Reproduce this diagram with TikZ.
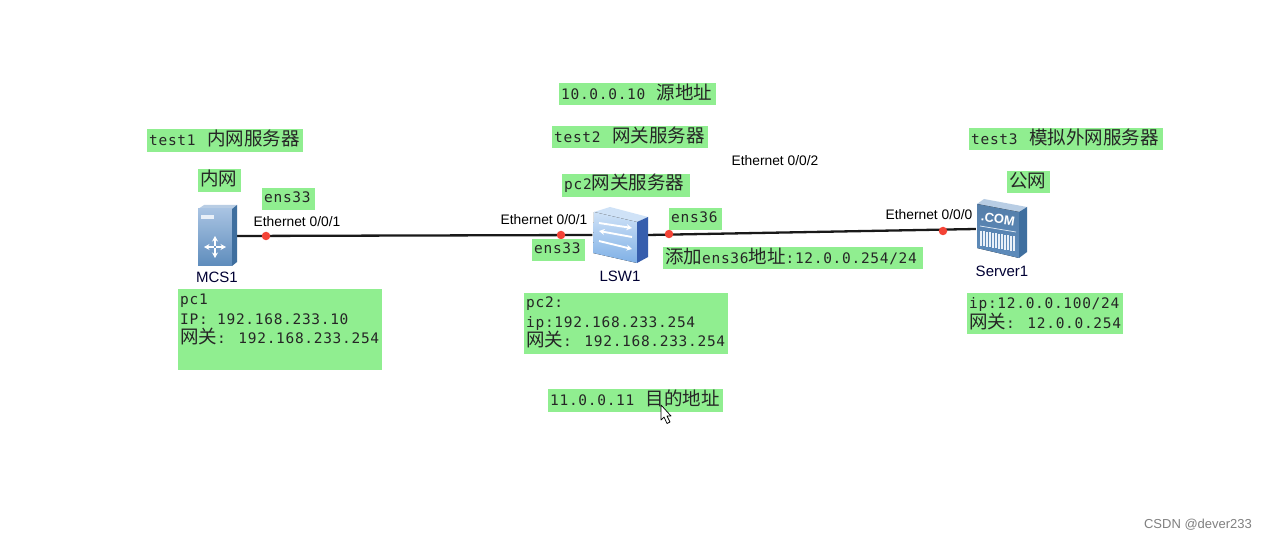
\documentclass[tikz,border=0pt]{standalone}
\usepackage{fontspec}
\setmainfont{Liberation Sans}
\newfontfamily\cjk{Noto Sans CJK SC}
\newfontfamily\monof[LetterSpace=4.8]{DejaVu Sans Mono}
\newcommand{\cn}[1]{{\cjk\fontsize{18.5}{19.5}\selectfont #1}}
\newcommand{\gsp}{\hspace{11.5pt}}
\newcommand{\gbshift}{2pt}
\newcommand{\gbx}[6]{%
  \pgfmathsetlengthmacro{\gbw}{(#4-#2)*1pt}%
  \pgfmathsetlengthmacro{\gbh}{(#5-#3)*1pt}%
  \node[greenbox,minimum width=\gbw,minimum height=\gbh,anchor=north west] (#1) at (#2,#3) {};
  \node[boxtext,anchor=west,xshift=2pt,yshift=\gbshift] (#1t) at (#1.west) {#6};}
\usetikzlibrary{arrows.meta}
\tikzset{
  greenbox/.style={fill=boxgreen,inner sep=0pt},
  boxtext/.style={inner sep=0pt,align=left,
    font=\monof\fontsize{14.5}{19.5}\selectfont,text=black!85},
  devicebox/.style={inner sep=0pt,rectangle},
  devlabel/.style={font=\fontsize{15}{16}\selectfont,text=black!80!blue},
  portlabel/.style={font=\fontsize{13.8}{14}\selectfont,text=black},
  reddot/.style={circle,fill=portred,inner sep=0pt,minimum size=8.5pt},
  linkline/.style={line width=2.3pt,black!90},
  whitearrow/.style={draw=white,line width=1.9pt,-{Stealth[length=5.5pt,width=6pt]}}
}
\definecolor{boxgreen}{HTML}{90EE90}
\definecolor{portred}{HTML}{F44336}
\definecolor{sidea}{HTML}{3F6F9F}
\definecolor{topa}{HTML}{B8CDE4}
\definecolor{fronta}{HTML}{A8C3E2}
\definecolor{frontb}{HTML}{5E8CBC}
\definecolor{swa}{HTML}{CFE2F7}
\definecolor{swb}{HTML}{7FB0E6}
\begin{document}
\begin{tikzpicture}[x=1pt,y=-1pt]
\useasboundingbox[fill=white] (0,0) rectangle (1267,540);
% device anchors
\node[devicebox,minimum width=40pt,minimum height=60pt] (mcs) at (217,236) {};
\node[devicebox,minimum width=55pt,minimum height=56pt] (lsw) at (620,235) {};
\node[devicebox,minimum width=52pt,minimum height=60pt] (srv) at (1002,229) {};
% links
\draw[linkline] (mcs.east) -- (lsw.west);
\draw[linkline] (lsw.east) -- (srv.west);
% MCS1 icon
\fill[topa] (198,209) -- (204,205) -- (237,205) -- (232,209) -- cycle;
\fill[top color=fronta,bottom color=frontb] (198,209) rectangle (232,266);
\fill[sidea] (232,209) -- (237,205) -- (237,262) -- (232,266) -- cycle;
\fill[white!75!fronta] (201,215) rectangle (214,219);
\draw[whitearrow] (215,246) -- (215,236);
\draw[whitearrow] (215,248) -- (215,258);
\draw[whitearrow] (214,247) -- (204,247);
\draw[whitearrow] (216,247) -- (226,247);
% LSW1 icon
\fill[swa] (594,212) -- (610,207) -- (648,217) -- (637,222) -- cycle;
\fill[top color=swa,bottom color=swb] (594,212) -- (637,222) -- (637,263) -- (593,253) -- cycle;
\fill[sidea!85!blue] (637,222) -- (648,217) -- (648,257) -- (637,263) -- cycle;
\draw[whitearrow] (599,223) -- (632,228);
\draw[whitearrow] (632,237) -- (599,231);
\draw[whitearrow] (599,241) -- (632,249);
% Server1 icon
\fill[topa] (977,204) -- (984,199) -- (1027,207) -- (1019,212) -- cycle;
\fill[top color=frontb!90!black,bottom color=frontb] (977,204) -- (1019,212) -- (1019,258) -- (977,248) -- cycle;
\fill[sidea] (1019,212) -- (1027,207) -- (1027,252) -- (1019,258) -- cycle;
\node[font=\bfseries\fontsize{13}{14}\selectfont,text=white,rotate=-9,inner sep=0pt] (srvcom) at (998,219) {.COM};
\draw[white!70!fronta,line width=.7pt] (980,226) -- (1016,232);
\foreach \i in {0,...,11}{
  \draw[white!75!fronta,line width=1.1pt] ({981+3*\i},{231+.5*\i}) -- ({981+3*\i},{246+.5*\i});
}
% ports
\node[reddot] (p1) at (266,236) {};
\node[reddot] (p2) at (561,235) {};
\node[reddot] (p3) at (669,234) {};
\node[reddot] (p4) at (943,231) {};
% green boxes
\gbx{t1}{147}{129}{303}{152}{test1\gsp\cn{内网服务器}}
\gbx{nw}{198}{169}{241}{192}{\cn{内网}}
\gbx{e1}{262}{188}{315}{210}{ens33}
\gbx{src}{559}{83}{716}{105}{10.0.0.10\gsp\cn{源地址}}
\gbx{t2}{552}{126}{708}{148}{test2\gsp\cn{网关服务器}}
\gbx{gw}{562}{174}{690}{197}{pc2\cn{网关服务器}}
\gbx{e2}{669}{208}{722}{230}{ens36}
\gbx{e3}{532}{239}{585}{261}{ens33}
\gbx{add}{663}{247}{923}{269}{\cn{添加}ens36\cn{地址}:12.0.0.254/24}
\gbx{dst}{548}{389}{723}{412}{11.0.0.11\gsp\cn{目的地址}}
\gbx{t3}{969}{128}{1163}{150}{test3\gsp\cn{模拟外网服务器}}
\gbx{pn}{1007}{171}{1050}{193}{\cn{公网}}
\renewcommand{\gbshift}{1pt}
\gbx{pa}{178}{289}{382}{370}{pc1\\IP: 192.168.233.10\\\cn{网关}: 192.168.233.254\\\mbox{}}
\gbx{pb}{524}{293}{728}{354}{pc2:\\ip:192.168.233.254\\\cn{网关}: 192.168.233.254}
\renewcommand{\gbshift}{0pt}
\gbx{pc}{967}{293}{1123}{334}{ip:12.0.0.100/24\\\cn{网关}: 12.0.0.254}
% port labels
\node[portlabel] (l1) at (297,222) {Ethernet 0/0/1};
\node[portlabel] (l2) at (544,220) {Ethernet 0/0/1};
\node[portlabel] (l3) at (775,161) {Ethernet 0/0/2};
\node[portlabel] (l4) at (929,215) {Ethernet 0/0/0};
% device labels
\node[devlabel] (n1) at (217,277) {MCS1};
\node[devlabel] (n2) at (620,276) {LSW1};
\node[devlabel] (n3) at (1002,271) {Server1};
% cursor
\draw[black,fill=white,line width=.7pt,line join=round] (661,405) -- (661,420) -- (664,417) -- (667,423.5) -- (670,422) -- (667,416) -- (671,416) -- cycle;
% watermark
\node[font=\fontsize{13}{14}\selectfont,text=black!50] (wm) at (1198,525) {CSDN @dever233};
\end{tikzpicture}
\end{document}
